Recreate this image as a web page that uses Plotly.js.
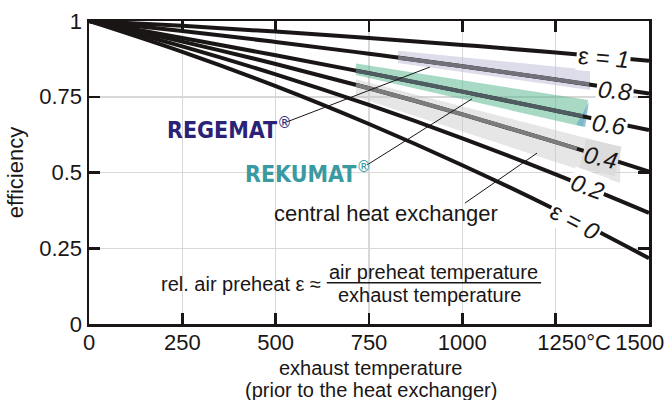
<!DOCTYPE html>
<html>
<head>
<meta charset="utf-8">
<script src="https://cdn.plot.ly/plotly-3.0.1.min.js"></script>
<style>html,body{margin:0;padding:0;background:#fff;}#chart{width:672px;height:400px;}</style>
</head>
<body>
<div id="chart"></div>
<script>
// exhaust temperature (°C)
const temps = [0, 250, 500, 750, 1000, 1250, 1500];
// efficiency for each relative air preheat ε
const effE10 = [1, 0.984, 0.965, 0.944, 0.921, 0.896, 0.869];
const effE08 = [1, 0.967, 0.931, 0.892, 0.851, 0.807, 0.761];
const effE06 = [1, 0.944, 0.887, 0.828, 0.767, 0.704, 0.640];
const effE04 = [1, 0.932, 0.858, 0.778, 0.692, 0.600, 0.503];
const effE02 = [1, 0.916, 0.824, 0.723, 0.613, 0.494, 0.367];
const effE00 = [1, 0.898, 0.785, 0.660, 0.524, 0.377, 0.217];
const curveLabels = ['ε <i>= 1</i>', '<i>0.8</i>', '<i>0.6</i>', '<i>0.4</i>', '<i>0.2</i>', 'ε <i>= 0</i>'];

// operating ranges of the heat exchanger types (on their ε curves)
const regematT = [828, 1000, 1250, 1340];
const regematEff = [0.879, 0.851, 0.807, 0.791];
const rekumatT = [715, 750, 1000, 1250, 1323];
const rekumatEff = [0.836, 0.828, 0.767, 0.704, 0.686];
const centralT = [715, 750, 1000, 1250, 1307];
const centralEff = [0.789, 0.778, 0.692, 0.600, 0.579];

// shaded areas around the ranges
const regematBandT = [828, 1342, 1342, 828];
const regematBandEff = [0.902, 0.838, 0.772, 0.861];
const rekumatBandT = [715, 1337, 1323, 715];
const rekumatBandEff = [0.860, 0.739, 0.651, 0.822];
const rekumatTipT = [1339, 1329, 1305];
const rekumatTipEff = [0.733, 0.650, 0.658];
const centralBandT = [715, 1423, 1423, 715];
const centralBandEff = [0.808, 0.585, 0.465, 0.750];

const xTicks = [0, 250, 500, 750, 1000, 1250, 1500];
const xTickText = ['0', '250', '500', '750', '1000', '\u00a0\u00a0\u00a0\u00a0\u00a0\u00a01250°C', '1500\u00a0\u00a0\u00a0'];
const yTicks = [0, 0.25, 0.5, 0.75, 1];
const yTickText = ['0', '0.25', '0.5', '0.75', '1'];
const xTitleLines = ['exhaust temperature', '(prior to the heat exchanger)'];

const FONT = 'Liberation Sans, Arial, Helvetica, sans-serif';
const NARROW = 'Liberation Sans Narrow, Arial Narrow, DejaVu Sans Condensed, Liberation Sans, sans-serif';

function band(x, y, color) {
  return {x: x, y: y, type: 'scatter', mode: 'lines', fill: 'toself', fillcolor: color,
          line: {width: 0}, hoverinfo: 'skip', showlegend: false};
}
function curve(x, y, color, w) {
  return {x: x, y: y, type: 'scatter', mode: 'lines', line: {color: color, width: w, shape: 'spline'},
          hoverinfo: 'skip', showlegend: false};
}

const traces = [
  band(centralBandT, centralBandEff, 'rgba(200,200,200,0.45)'),
  band(regematBandT, regematBandEff, 'rgba(185,185,215,0.5)'),
  band(rekumatBandT, rekumatBandEff, 'rgba(95,185,150,0.55)'),
  band(rekumatTipT, rekumatTipEff, 'rgba(110,170,200,0.7)'),
  curve(temps, effE10, '#1a1616', 4),
  curve(temps, effE08, '#1a1616', 4),
  curve(temps, effE06, '#1a1616', 4),
  curve(temps, effE04, '#1a1616', 4),
  curve(temps, effE02, '#1a1616', 4),
  curve(temps, effE00, '#1a1616', 4),
  curve(regematT, regematEff, '#727079', 4),
  curve(rekumatT, rekumatEff, '#4f5d63', 4),
  curve(centralT, centralEff, '#7c7c7c', 4)
];

const labelPos = [
  {x: 1379, y: 0.878, a: 5},
  {x: 1409, y: 0.769, a: 6},
  {x: 1393, y: 0.657, a: 8},
  {x: 1371, y: 0.548, a: 13},
  {x: 1334, y: 0.455, a: 20},
  {x: 1302, y: 0.337, a: 28}
];

const annotations = curveLabels.map((t, i) => ({
  x: labelPos[i].x, y: labelPos[i].y, xref: 'x', yref: 'y', text: t, showarrow: false,
  textangle: labelPos[i].a, font: {family: FONT, size: 24, color: '#1a1616'},
  bgcolor: i === 3 ? '#dcdcdc' : '#ffffff', borderpad: 1
}));

annotations.push(
  {x: 204, y: 0.647, xref: 'x', yref: 'y', xanchor: 'left', yanchor: 'middle', showarrow: false,
   text: '<b>REGEMAT</b><sup>®</sup>', font: {family: NARROW, size: 23, color: '#2a2277'}},
  {x: 413, y: 0.502, xref: 'x', yref: 'y', xanchor: 'left', yanchor: 'middle', showarrow: false,
   text: '<b>REKUMAT</b><sup>®</sup>', font: {family: NARROW, size: 23, color: '#3a9aa2'}},
  {x: 490, y: 0.365, xref: 'x', yref: 'y', xanchor: 'left', yanchor: 'middle', showarrow: false,
   text: 'central heat exchanger', font: {family: FONT, size: 22, color: '#1a1616'}},
  {x: 627, y: 0.132, xref: 'x', yref: 'y', xanchor: 'right', yanchor: 'middle', showarrow: false,
   text: 'rel. air preheat ε ≈', font: {family: FONT, size: 20, color: '#1a1616'}},
  {x: 923, y: 0.170, xref: 'x', yref: 'y', xanchor: 'center', yanchor: 'middle', showarrow: false,
   text: 'air preheat temperature', font: {family: FONT, size: 20, color: '#1a1616'}},
  {x: 913, y: 0.097, xref: 'x', yref: 'y', xanchor: 'center', yanchor: 'middle', showarrow: false,
   text: 'exhaust temperature', font: {family: FONT, size: 20, color: '#1a1616'}},
  {x: 0.503, y: -0.145, xref: 'paper', yref: 'paper', xanchor: 'center', yanchor: 'middle', showarrow: false,
   text: xTitleLines[0], font: {family: FONT, size: 20, color: '#1a1616'}},
  {x: 0.503, y: -0.218, xref: 'paper', yref: 'paper', xanchor: 'center', yanchor: 'middle', showarrow: false,
   text: xTitleLines[1], font: {family: FONT, size: 20, color: '#1a1616'}}
);

const shapes = [
  {type: 'line', xref: 'x', yref: 'y', x0: 530, y0: 0.667, x1: 913, y1: 0.848, line: {color: '#1a1616', width: 1}, layer: 'above'},
  {type: 'line', xref: 'x', yref: 'y', x0: 745, y0: 0.525, x1: 1026, y1: 0.743, line: {color: '#1a1616', width: 1}, layer: 'above'},
  {type: 'line', xref: 'x', yref: 'y', x0: 1007, y0: 0.399, x1: 1200, y1: 0.564, line: {color: '#1a1616', width: 1}, layer: 'above'},
  {type: 'line', xref: 'x', yref: 'y', x0: 637, y0: 0.136, x1: 1211, y1: 0.136, line: {color: '#1a1616', width: 1.6}, layer: 'above'}
];

const axisCommon = {
  ticks: 'inside', ticklen: 11, tickwidth: 2.5, tickcolor: '#1a1616',
  showline: true, linewidth: 2.5, linecolor: '#1a1616', mirror: 'ticks',
  showgrid: true, gridcolor: '#d8d8d8', gridwidth: 1.5, zeroline: false,
  tickfont: {family: FONT, size: 22, color: '#1a1616'}, fixedrange: true,
  ticklabeloverflow: 'allow'
};

const layout = {
  width: 672, height: 400,
  margin: {l: 89, r: 23, t: 21, b: 76},
  paper_bgcolor: '#ffffff', plot_bgcolor: '#ffffff',
  font: {family: FONT, color: '#1a1616'},
  showlegend: false,
  xaxis: Object.assign({}, axisCommon, {
    range: [0, 1500], tickmode: 'array', tickvals: xTicks, ticktext: xTickText,
    ticklabelstandoff: -3
  }),
  yaxis: Object.assign({}, axisCommon, {
    range: [0, 1], tickmode: 'array', tickvals: yTicks, ticktext: yTickText,
    title: {text: 'efficiency', font: {family: FONT, size: 22, color: '#1a1616'}, standoff: 10}
  }),
  annotations: annotations,
  shapes: shapes
};

Plotly.newPlot('chart', traces, layout, {staticPlot: true, displayModeBar: false});
</script>
</body>
</html>
